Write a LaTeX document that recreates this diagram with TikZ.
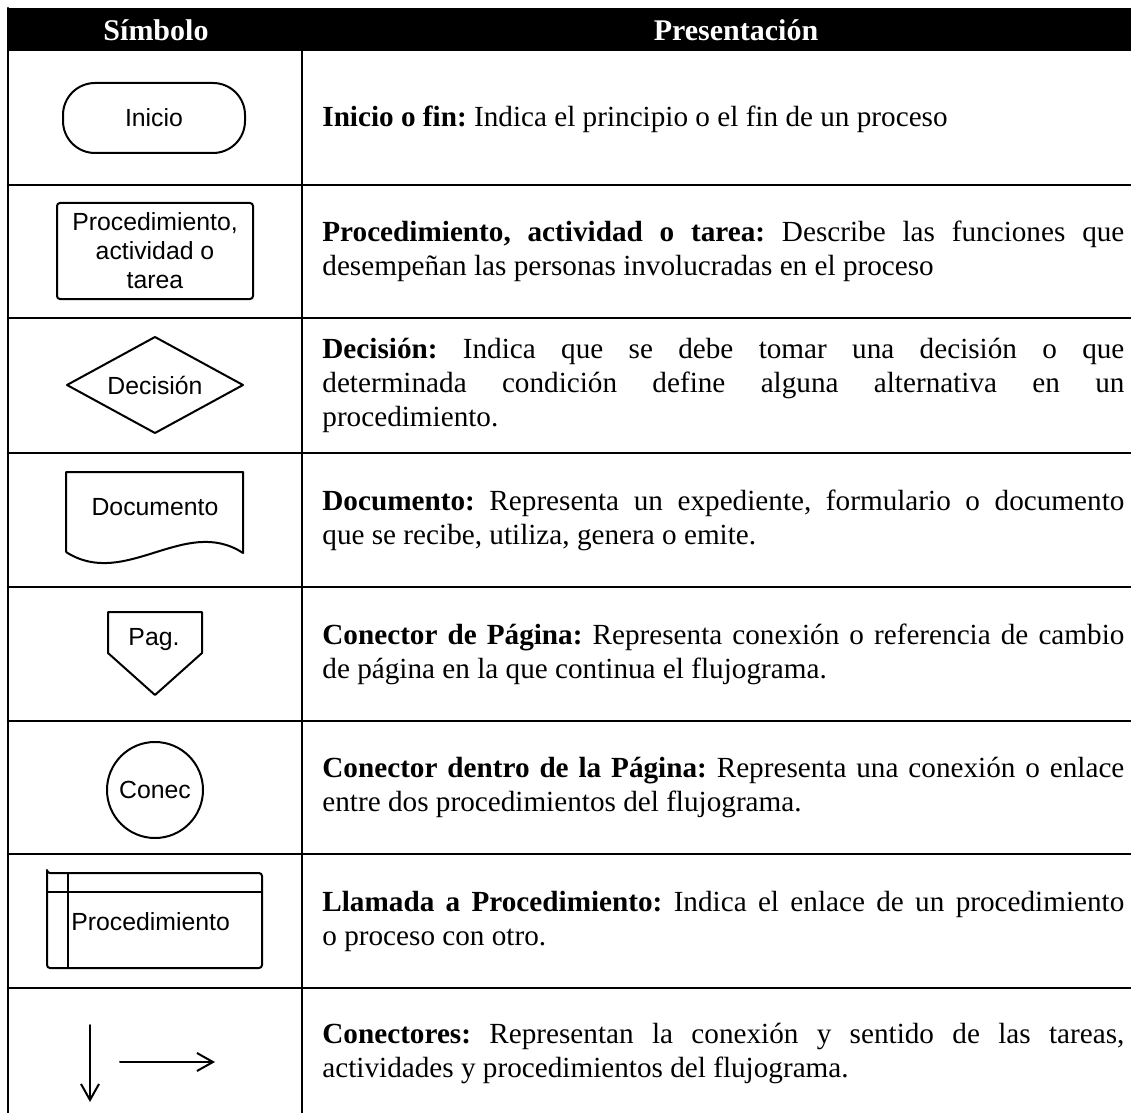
\documentclass[tikz,border=0pt]{standalone}
\usepackage{fontspec}
\setmainfont{Liberation Serif}
\setsansfont{Liberation Sans}
\usepackage{tikz}
\usepackage{tkz-euclide}
\usetikzlibrary{calc, arrows.meta, positioning}
\tikzset{
  desc/.style={anchor=west, inner sep=0pt, text width=401pt, align=justify,
    font=\fontsize{14.6}{17}\selectfont,
    execute at begin node={\frenchspacing\hyphenpenalty=10000 \exhyphenpenalty=10000 \tolerance=10000 \hbadness=10000\relax}},
  simb/.style={inner sep=0pt, align=center, font=\sffamily\fontsize{12.4}{14.5}\selectfont},
  head/.style={text=white, font=\bfseries\fontsize{15}{18}\selectfont},
  tabla/.style={line width=1.3pt},
  trazo/.style={line width=1pt, line join=round}
}
\begin{document}
\begin{tikzpicture}[x=0.5pt, y=-0.5pt, >={Straight Barb[length=8pt,width=9pt]}]
\useasboundingbox (0,0) rectangle (1131,1113);
\tkzDefPoints{8/8/T0, 1131/51/T1, 8/1113/B0, 302/51/T4, 302/1113/B4}
\fill (T0) rectangle (T1);
\tkzDefPoints{8/185/L1, 8/318/L2, 8/453/L3, 8/587/L4, 8/721/L5, 8/854/L6, 8/988/L7}
\tkzDefPoints{1131/185/R1, 1131/318/R2, 1131/453/R3, 1131/587/R4, 1131/721/R5, 1131/854/R6, 1131/988/R7}
\tkzDrawSegments[tabla](T0,B0 T4,B4 L1,R1 L2,R2 L3,R3 L4,R4 L5,R5 L6,R6 L7,R7)
\node[head] (simbolo) at (156,30) {Símbolo};
\node[head] (present) at (736,30) {Presentación};

\node[draw, trazo, rounded corners=16pt, minimum width=91pt, minimum height=35pt, simb] (inicio) at (154,118) {Inicio};
\node[draw, trazo, rounded corners=1.5pt, minimum width=98pt, minimum height=48pt, simb] (tarea) at (155,251) {Procedimiento,\\actividad o\\tarea};
\tkzDefPoints{67/385/D1, 155/337/D2, 243/385/D3, 155/433/D4}
\tkzDrawPolygon[trazo](D1,D2,D3,D4)
\node[simb] (decision) at (155,385) {Decisión};
\tkzDefPoints{66/552/Doc1, 66/472/Doc2, 243/472/Doc3, 243/553/Doc4}
\draw[trazo] (Doc1) -- (Doc2) -- (Doc3) -- (Doc4) .. controls (185,515) and (125,590) .. (Doc1);
\node[simb] (documento) at (155,507) {Documento};
\tkzDefPoints{108/612/P1, 202/612/P2, 202/653/P3, 155/695/P4, 108/653/P5}
\tkzDrawPolygon[trazo](P1,P2,P3,P4,P5)
\node[simb] (pagina) at (154,640) {Pag.};
\node[draw, trazo, circle, minimum size=48pt, simb] (conec) at (155,790) {Conec};
\tkzDefPoints{47/873/C1, 262/873/C2, 262/968/C3, 47/968/C4, 68/873/C5, 68/968/C6, 47/892/C7, 262/892/C8}
\tkzDrawPolygon[trazo, rounded corners=1.5pt](C1,C2,C3,C4)
\tkzDrawSegments[trazo](C5,C6 C7,C8)
\node[simb, anchor=west] (llamada) at (71,922) {Procedimiento};
\tkzDefPoints{90/1025/V1, 90/1102/V2, 120/1062/H1, 215/1062/H2}
\tkzDrawSegments[trazo, ->](V1,V2 H1,H2)

\node[desc] (fila1) at (322,119) {\textbf{Inicio o fin:} Indica el principio o el fin de un proceso};
\node[desc] (fila2) at (322,251.5) {\textbf{Procedimiento, actividad o tarea:} Describe las funciones que\linebreak desempeñan las personas involucradas en el proceso};
\node[desc] (fila3) at (322,385.5) {\textbf{Decisión:} Indica que se debe tomar una decisión o que\linebreak determinada condición define alguna alternativa en un\linebreak procedimiento.};
\node[desc] (fila4) at (322,520) {\textbf{Documento:} Representa un expediente, formulario o documento\linebreak que se recibe, utiliza, genera o emite.};
\node[desc] (fila5) at (322,654) {\textbf{Conector de Página:} Representa conexión o referencia de cambio\linebreak de página en la que continua el flujograma.};
\node[desc] (fila6) at (322,787.5) {\textbf{Conector dentro de la Página:} Representa una conexión o enlace\linebreak entre dos procedimientos del flujograma.};
\node[desc] (fila7) at (322,921) {\textbf{Llamada a Procedimiento:} Indica el enlace de un procedimiento\linebreak o proceso con otro.};
\node[desc] (fila8) at (322,1053) {\textbf{Conectores:} Representan la conexión y sentido de las tareas,\linebreak actividades y procedimientos del flujograma.};
\end{tikzpicture}
\end{document}
